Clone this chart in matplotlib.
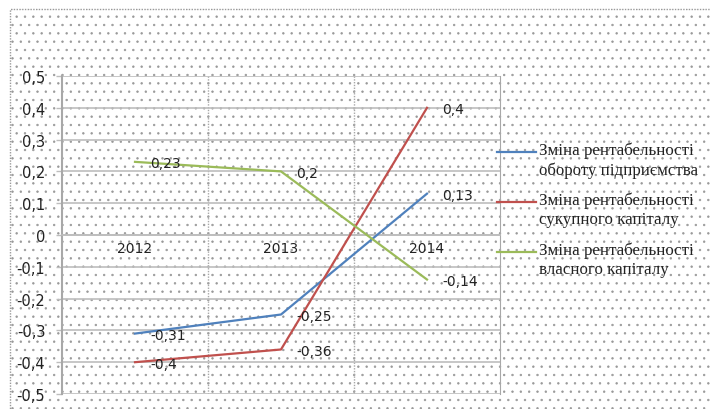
import matplotlib.pyplot as plt
from matplotlib.patches import Rectangle
from matplotlib.lines import Line2D
from matplotlib.ticker import FuncFormatter

# дані
years = ['2012', '2013', '2014']
oborot = [-0.31, -0.25, 0.13]
sukupnyi = [-0.4, -0.36, 0.4]
vlasnyi = [0.23, 0.2, -0.14]
series_names = ['Зміна рентабельності\nобороту підприємства',
                'Зміна рентабельності\nсукупного капіталу',
                'Зміна рентабельності\nвласного капіталу']
colors = ['#4F81BD', '#C0504D', '#9BBB59']

plt.rcParams['hatch.color'] = '#d9d9d9'
plt.rcParams['hatch.linewidth'] = 0.5

W, H = 710, 410
fig = plt.figure(figsize=(W / 100, H / 100), dpi=100)

# фон з крапками і рамка
bg = Rectangle((10 / W, -0.05), 1.05, 1 - 10 / H + 0.05, transform=fig.transFigure,
               facecolor='white', edgecolor='#999999', linewidth=1.0,
               linestyle=(0, (1, 1)), hatch='..', zorder=-10)
fig.patches.append(bg)

ax = fig.add_axes([62 / W, 1 - 395 / H, (500 - 62) / W, (395 - 77) / H])
ax.patch.set_alpha(0)

x = range(len(years))
for vals, c in zip([oborot, sukupnyi, vlasnyi], colors):
    ax.plot(x, vals, color=c, linewidth=1.6, zorder=3)
    for xi, v in zip(x, vals):
        lbl = ('%g' % v).replace('.', ',')
        ax.annotate(lbl, (xi, v), xytext=(11, -1), textcoords='offset points',
                    va='center', ha='left', fontsize=10, color='#222222', zorder=4)

ax.set_xlim(-0.5, 2.5)
ax.set_ylim(-0.5, 0.5)
ax.set_yticks([i / 10 for i in range(-5, 6)])
ax.yaxis.set_major_formatter(FuncFormatter(lambda v, p: ('%g' % round(v, 1)).replace('.', ',')))
ax.set_xticks(list(x))
ax.set_xticklabels(years)
ax.set_xticks([0.5, 1.5], minor=True)

ax.grid(True, axis='y', which='major', color='#bdbdbd', linewidth=1.2)
ax.grid(True, axis='x', which='minor', color='#a8a8a8', linewidth=1.0, linestyle=(0, (1, 1)))
ax.tick_params(axis='x', which='both', length=0, pad=4, labelsize=10, labelcolor='#222222')
ax.tick_params(axis='y', length=4, width=1, color='#bdbdbd', pad=8, labelsize=10.5,
               labelcolor='#222222')

for s in ['top', 'right', 'left']:
    ax.spines[s].set_color('#a8a8a8')
ax.spines['left'].set_linewidth(1.5)
ax.spines['left'].set_linestyle((0, (1, 1)))
ax.spines['right'].set_linestyle((0, (1, 1)))
ax.spines['top'].set_visible(False)
ax.spines['bottom'].set_position(('data', 0))
ax.spines['bottom'].set_color('#bdbdbd')
ax.spines['bottom'].set_linewidth(1.2)

# легенда
for i, (name, c) in enumerate(zip(series_names, colors)):
    yy = 1 - (153 + 50 * i) / H
    fig.add_artist(Line2D([497 / W, 536 / W], [yy, yy], color=c, linewidth=1.6,
                          transform=fig.transFigure))
    fig.text(539 / W, yy + 10 / H, name, family='Liberation Serif', fontsize=12.2,
             color='#222222', va='top', ha='left', linespacing=1.25,
             transform=fig.transFigure)

fig.savefig('out.png', dpi=100)
